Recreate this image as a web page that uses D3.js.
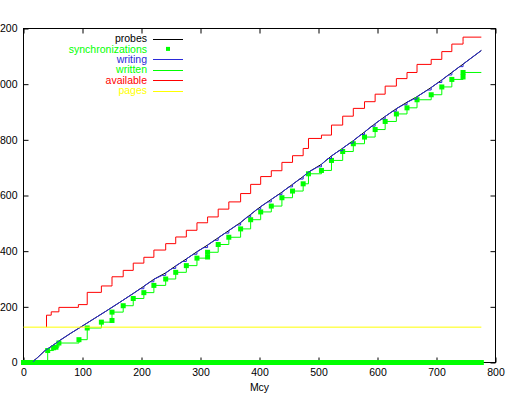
<!DOCTYPE html>
<html>
<head>
<meta charset="utf-8">
<script src="https://cdn.jsdelivr.net/npm/d3@7"></script>
<style>
  body { margin: 0; background: #fff; }
  svg { display: block; font-family: "Liberation Sans", Arial, sans-serif; }
</style>
</head>
<body>
<div class="usable"></div>
<script>
// ticks
const xTicks = [0, 100, 200, 300, 400, 500, 600, 700, 800]
const yTicks = [0, 200, 400, 600, 800, 1000, 1200]

// [Mcy, value]
const probes = [[0, 3], [15, 3], [24, 18], [36, 42], [50, 62], [62, 80], [80, 105], [99, 130], [120, 158],
  [141, 186], [163, 216], [186, 248], [204, 274], [221, 299], [241, 322], [258, 347], [276, 372], [294, 398],
  [312, 422], [330, 448], [348, 474], [368, 503], [385, 532], [402, 560], [420, 586], [438, 612], [456, 640],
  [474, 668], [483, 684], [505, 712], [522, 742], [541, 770], [559, 797], [578, 828], [596, 858], [613, 884],
  [632, 912], [650, 935], [667, 955], [691, 988], [709, 1015], [726, 1042], [745, 1072], [776, 1121]]

const writing = [[15, 0], [24, 18], [36, 42], [50, 62], [62, 80], [80, 105], [99, 130], [120, 158], [141, 186],
  [163, 216], [186, 248],
  [198, 265], [204, 265], [204, 274], [215, 290], [221, 290], [221, 299], [235, 313], [241, 313], [241, 322],
  [252, 338], [258, 338], [258, 347], [270, 363], [276, 363], [276, 372], [288, 389], [294, 389], [294, 398],
  [306, 413], [312, 413], [312, 422], [324, 439], [330, 439], [330, 448], [342, 465], [348, 465], [348, 474],
  [362, 494], [368, 494], [368, 503], [379, 523], [385, 523], [385, 532], [396, 551], [402, 551], [402, 560],
  [414, 577], [420, 577], [420, 586], [432, 603], [438, 603], [438, 612], [450, 631], [456, 631], [456, 640],
  [468, 659], [474, 659], [474, 668], [483, 684],
  [499, 703], [505, 703], [505, 712], [516, 733], [522, 733], [522, 742], [535, 761], [541, 761], [541, 770],
  [553, 788], [559, 788], [559, 797], [572, 819], [578, 819], [578, 828], [590, 849], [596, 849], [596, 858],
  [607, 875], [613, 875], [613, 884], [626, 903], [632, 903], [632, 912], [644, 926], [650, 926], [650, 935],
  [661, 946], [667, 946], [667, 955], [685, 979], [691, 979], [691, 988], [703, 1006], [709, 1006], [709, 1015],
  [720, 1033], [726, 1033], [726, 1042], [739, 1063], [745, 1063], [745, 1072], [776, 1121]]

const synchronizations = [[41, 43], [51, 53], [55, 55], [60, 70], [94, 82], [108, 124], [132, 145], [150, 151],
  [150, 181], [169, 204], [186, 230], [204, 251], [221, 277], [241, 300], [258, 324], [276, 348], [294, 375],
  [312, 379], [312, 396], [330, 424], [348, 450], [368, 480], [385, 513], [402, 541], [420, 562], [438, 592],
  [456, 616], [474, 642], [483, 678], [505, 690], [522, 726], [541, 758], [559, 786], [578, 810], [596, 837],
  [613, 866], [632, 893], [650, 915], [667, 944], [691, 962], [709, 990], [726, 1017], [745, 1026], [745, 1042]]

// idle synchronizations sit on zero over this span
const idleSyncSpan = [0, 776]

const written = [[0, 0], [41, 43], [51, 53], [55, 55], [60, 70], [94, 82], [108, 124], [132, 145], [150, 151],
  [150, 181], [169, 204], [186, 230], [204, 251], [221, 277], [241, 300], [258, 324], [276, 348], [294, 375],
  [312, 379], [312, 396], [330, 424], [348, 450], [368, 480], [385, 513], [402, 541], [420, 562], [438, 592],
  [456, 616], [474, 642], [483, 678], [505, 690], [522, 726], [541, 758], [559, 786], [578, 810], [596, 837],
  [613, 866], [632, 893], [650, 915], [667, 944], [691, 962], [709, 990], [726, 1017], [745, 1026], [745, 1042],
  [776, 1042]]

const available = [[39, 127], [39, 170], [47, 182], [60, 198], [93, 208], [108, 252], [132, 275], [150, 280],
  [150, 308], [169, 331], [186, 357], [204, 378], [221, 404], [241, 427], [258, 451], [276, 475], [294, 502],
  [312, 506], [312, 523], [330, 551], [348, 577], [368, 607], [385, 640], [402, 668], [420, 689], [438, 719],
  [456, 743], [474, 769], [483, 805], [505, 817], [522, 853], [541, 885], [559, 913], [578, 937], [596, 964],
  [613, 993], [632, 1020], [650, 1042], [667, 1071], [691, 1089], [709, 1117], [726, 1144], [745, 1153],
  [745, 1169], [776, 1169]]

const pages = [[0, 127], [776, 127]]

const width = 506,
  height = 394

const svg = d3.select(".usable").append("svg")
  .attr("width", width)
  .attr("height", height)

const x = d3.scaleLinear().domain([0, 800]).range([23.5, 495.5])
const y = d3.scaleLinear().domain([0, 1200]).range([362.5, 28.5])

const colores = {
  probes: "#000000",
  synchronizations: "#00ff00",
  writing: "#2a2ad8",
  written: "#00ff00",
  available: "#ff0000",
  pages: "#ffff00"
}

function dibujarEje(eje, tx, ty) {
  let g = svg.append("g").attr("transform", "translate(" + tx + "," + ty + ")").call(eje)
  g.select(".domain").remove()
  g.selectAll("line").attr("stroke", "#000")
  g.selectAll("text").attr("fill", "#000").style("font-size", "10.5px").attr("font-family", null)
  return g
}

dibujarEje(d3.axisBottom(x).tickValues(xTicks).tickSize(-5).tickPadding(6), 0, y(0))
dibujarEje(d3.axisTop(x).tickValues(xTicks).tickSize(-5).tickFormat(""), 0, y(1200))
dibujarEje(d3.axisLeft(y).tickValues(yTicks).tickSize(-5).tickPadding(6), x(0), 0)
dibujarEje(d3.axisRight(y).tickValues(yTicks).tickSize(-5).tickFormat(""), x(800), 0)

svg.append("rect")
  .attr("x", x(0)).attr("y", y(1200))
  .attr("width", x(800) - x(0)).attr("height", y(0) - y(1200))
  .attr("fill", "none").attr("stroke", "#000").attr("stroke-width", 1)

svg.append("text").text("Mcy")
  .attr("x", (x(0) + x(800)) / 2).attr("y", 391)
  .attr("text-anchor", "middle").style("font-size", "10.5px")

const linea = d3.line().x(d => x(d[0])).y(d => y(d[1]))
const escalon = d3.line().x(d => x(d[0])).y(d => y(d[1])).curve(d3.curveStepAfter)

function crearLinea(datos, generador, color) {
  svg.append("path").datum(datos)
    .attr("d", generador)
    .attr("fill", "none")
    .attr("stroke", color)
    .attr("stroke-width", 1)
}

// orden de gnuplot: probes, synchronizations, writing, written, available, pages
crearLinea(probes, linea, colores.probes)

svg.append("rect")
  .attr("x", x(idleSyncSpan[0]) - 2.5).attr("y", y(0) - 2.5)
  .attr("width", x(idleSyncSpan[1]) - x(idleSyncSpan[0]) + 5).attr("height", 5)
  .attr("fill", colores.synchronizations)

svg.append("g").selectAll("rect").data(synchronizations).join("rect")
  .attr("x", d => x(d[0]) - 2.5).attr("y", d => y(d[1]) - 2.5)
  .attr("width", 5).attr("height", 5)
  .attr("fill", colores.synchronizations)

crearLinea(writing, linea, colores.writing)
crearLinea(written, escalon, colores.written)
crearLinea(available, escalon, colores.available)
crearLinea(pages, linea, colores.pages)

// leyenda
const leyenda = [
  { nombre: "probes", tipo: "linea" },
  { nombre: "synchronizations", tipo: "punto" },
  { nombre: "writing", tipo: "linea" },
  { nombre: "written", tipo: "linea" },
  { nombre: "available", tipo: "linea" },
  { nombre: "pages", tipo: "linea" }
]

leyenda.forEach(function (item, i) {
  let cy = 38.5 + i * 10.4
  svg.append("text").text(item.nombre)
    .attr("x", 147).attr("y", cy).attr("dy", "0.35em")
    .attr("text-anchor", "end")
    .attr("fill", colores[item.nombre])
    .style("font-size", "10.5px")
  if (item.tipo == "punto") {
    svg.append("rect").attr("x", 166).attr("y", cy - 2)
      .attr("width", 4).attr("height", 4)
      .attr("fill", colores[item.nombre])
  } else {
    svg.append("line").attr("x1", 153).attr("x2", 183)
      .attr("y1", Math.round(cy) + 0.5).attr("y2", Math.round(cy) + 0.5)
      .attr("stroke", colores[item.nombre]).attr("stroke-width", 1)
  }
})
</script>
</body>
</html>
